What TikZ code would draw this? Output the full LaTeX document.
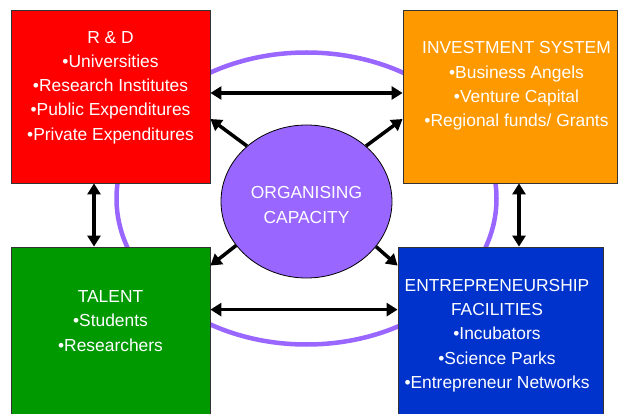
\documentclass[tikz,border=0pt]{standalone}
\usepackage{fontspec}
\setmainfont{Liberation Sans}
\usetikzlibrary{arrows.meta,positioning,shapes.geometric}
\definecolor{rdred}{HTML}{FF0000}
\definecolor{invorange}{HTML}{FF9900}
\definecolor{talgreen}{HTML}{009900}
\definecolor{entblue}{HTML}{0033CC}
\definecolor{orgpurple}{HTML}{9966FF}
\begin{document}
\begin{tikzpicture}[x=1pt,y=-1pt,
    box/.style={draw=black!80, line width=0.8pt, rectangle, inner sep=0pt},
    txt/.style={text=white, align=center, inner sep=0pt, font=\fontsize{17.4}{24.2}\selectfont},
    link/.style={line width=3.5pt, {Triangle[length=11pt,width=13pt]}-{Triangle[length=11pt,width=13pt]}},
    push/.style={line width=3.5pt, -{Triangle[length=11pt,width=13pt]}}]
    \clip (0,0) rectangle (619,414);

    % outer ring
    \draw[orgpurple, line width=4.5pt] (306.5,198.5) ellipse [x radius=190pt, y radius=146pt];

    % four boxes
    \node[box, fill=rdred, minimum width=199pt, minimum height=173pt] (rd) at (110.5,96.5) {};
    \node[box, fill=invorange, minimum width=214pt, minimum height=173pt] (inv) at (510,96.5) {};
    \node[box, fill=talgreen, minimum width=199pt, minimum height=177pt] (tal) at (110.5,335.5) {};
    \node[box, fill=entblue, minimum width=205pt, minimum height=177pt] (ent) at (500.5,335.5) {};

    \node[txt, below=21.5pt of rd.north] (rdtext) {R \& D\\•Universities\\•Research Institutes\\•Public Expenditures\\•Private Expenditures};
    \node[txt, below=32pt of inv.north, xshift=6.5pt] (invtext) {INVESTMENT SYSTEM\\•Business Angels\\•Venture Capital\\•Regional funds/ Grants};
    \node[txt, below=44pt of tal.north] (taltext) {TALENT\\•Students\\•Researchers};
    \node[txt, below=32.5pt of ent.north, xshift=-3.5pt] (enttext) {ENTREPRENEURSHIP\\FACILITIES\\•Incubators\\•Science Parks\\•Entrepreneur Networks};

    % organising capacity
    \node[ellipse, draw=black, line width=0.8pt, fill=orgpurple, minimum width=171pt, minimum height=153pt] (org) at (306.5,201.5) {};
    \node[txt] (orgtext) at ([yshift=-3.5pt]org.center) {ORGANISING\\CAPACITY};

    % two-way links
    \draw[link] ([yshift=3.5pt]rd.east) -- ([yshift=3.5pt]inv.west);
    \draw[link] ([yshift=-63pt]tal.north east) -- ([yshift=-63pt]ent.north west);
    \draw[link] ([xshift=-16.5pt]rd.south) -- ([xshift=-16.5pt]tal.north);
    \draw[link] ([xshift=9pt]inv.south) -- ([xshift=18.5pt]ent.north);

    % from the centre
    \draw[push] (org.137) -- ([yshift=-22.5pt]rd.east);
    \draw[push] (org.43) -- ([yshift=-22.5pt]inv.west);
    \draw[push] (org.212) -- ([yshift=-19pt]tal.north east);
    \draw[push] (org.-33) -- ([yshift=-19pt]ent.north west);
\end{tikzpicture}
\end{document}
